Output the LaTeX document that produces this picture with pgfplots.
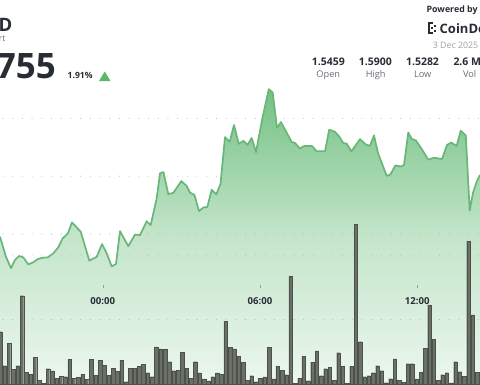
\documentclass[border=0pt]{standalone}
\usepackage{fontspec}
\setmainfont{Open Sans}
\usepackage{pgfplots}
\pgfplotsset{compat=1.18}
\usepackage{pgfplotstable}

\definecolor{linegreen}{RGB}{104,182,120}
\definecolor{topgreen}{RGB}{116,193,132}
\definecolor{midgreen}{RGB}{196,229,202}
\definecolor{botgreen}{RGB}{236,247,238}
\definecolor{volbar}{RGB}{106,112,104}
\definecolor{voledge}{RGB}{76,81,74}
\definecolor{gridc}{RGB}{180,186,182}
\definecolor{txtdark}{RGB}{40,44,52}
\definecolor{txtgray}{RGB}{105,110,118}
\definecolor{txtlight}{RGB}{160,160,166}
\definecolor{upgreen}{RGB}{92,184,100}

\pgfplotstableread{
k p
-0.069 1.5391
1.315 1.5321
2.468 1.5282
3.391 1.5310
4.314 1.5324
5.306 1.5319
6.459 1.5295
7.474 1.5301
8.627 1.5313
9.781 1.5318
10.934 1.5319
12.226 1.5333
13.379 1.5354
14.394 1.5385
15.548 1.5401
16.540 1.5440
18.547 1.5408
20.531 1.5308
22.238 1.5321
23.460 1.5365
24.544 1.5333
25.698 1.5288
26.690 1.5296
27.613 1.5410
29.527 1.5358
31.073 1.5398
32.226 1.5396
33.772 1.5444
34.694 1.5431
36.079 1.5523
36.840 1.5610
37.647 1.5614
38.754 1.5538
39.908 1.5542
41.753 1.5583
42.999 1.5566
43.760 1.5543
44.798 1.5535
45.836 1.5479
46.874 1.5492
47.751 1.5493
48.766 1.5553
49.827 1.5537
50.796 1.5573
51.834 1.5735
52.918 1.5719
53.910 1.5777
54.994 1.5712
56.102 1.5722
57.024 1.5708
57.993 1.5732
58.985 1.5683
60.369 1.5794
61.938 1.5901
62.838 1.5889
63.830 1.5767
64.752 1.5787
67.220 1.5718
67.982 1.5715
69.066 1.5696
70.058 1.5704
71.903 1.5704
72.988 1.5686
74.902 1.5686
75.872 1.5761
77.209 1.5753
78.178 1.5737
79.123 1.5715
79.908 1.5712
80.993 1.5686
82.976 1.5728
84.360 1.5709
85.283 1.5705
86.206 1.5741
87.128 1.5680
89.135 1.5601
90.012 1.5606
91.119 1.5637
92.434 1.5633
93.126 1.5639
94.118 1.5751
94.902 1.5729
95.894 1.5723
97.209 1.5694
98.731 1.5657
100.046 1.5664
101.892 1.5659
103.045 1.5708
104.013 1.5716
105.283 1.5705
106.205 1.5757
107.382 1.5741
108.282 1.5481
109.045 1.5543
109.897 1.5581
110.658 1.5604
}\price

\pgfplotstableread{
k v
0 81.1
1 28.4
2 63.1
3 22.8
4 28.4
5 136.9
6 18.6
7 15.0
8 41.4
9 6.2
10 0.6
11 23.7
12 20.2
13 8.8
14 12.4
15 11.3
16 38.3
17 8.8
18 10.4
19 15.5
20 7.3
21 38.3
22 13.5
23 37.2
24 29.0
25 13.5
26 24.3
27 19.7
28 36.7
29 3.6
30 24.8
31 24.8
32 27.9
33 30.5
34 17.5
35 11.3
36 57.4
37 54.3
38 53.8
39 34.6
40 20.6
41 21.7
42 49.6
43 24.3
44 8.8
45 34.6
46 17.1
47 7.8
48 4.7
49 11.3
50 17.1
51 15.5
52 97.2
53 56.9
54 54.3
55 43.4
56 33.6
57 6.2
58 12.9
59 3.6
60 8.8
61 10.9
62 56.9
63 7.8
64 27.9
65 21.2
66 14.4
67 167.4
68 0.6
69 8.8
70 43.4
71 5.1
72 34.1
73 51.2
74 12.9
75 23.7
76 25.9
77 6.2
78 48.5
79 27.4
80 0.6
81 27.4
82 248.0
83 65.6
84 11.3
85 12.9
86 17.5
87 28.4
88 20.6
89 2.0
90 8.2
91 38.8
92 5.7
93 3.1
94 31.5
95 31.5
96 7.8
97 18.6
98 55.8
99 122.5
100 69.3
101 6.2
102 14.4
103 17.5
104 1.6
105 34.6
106 19.1
107 12.4
108 221.2
109 107.0
110 18.1
}\volume

\begin{document}
\begin{tikzpicture}[x=1pt,y=1pt]
\useasboundingbox (0,0) rectangle (480,384);
\clip (0,0) rectangle (480,384);
\fill[white] (0,0) rectangle (480,384);

% price area + line
\begin{axis}[at={(0,0)}, anchor=south west, scale only axis,
  width=480pt, height=384pt,
  xmin=-0.069, xmax=110.658, ymin=1.48813, ymax=1.62091,
  axis line style={draw=none},
  ytick={1.54,1.56,1.58}, yticklabels={}, ymajorgrids,
  grid style={gridc, line width=1.1pt, line cap=round, dash pattern=on 0pt off 9.7pt, dash phase=-3pt},
  xtick={23.64,59.91,96.19}, xticklabels={00:00,06:00,12:00},
  major tick length=0pt,
  xticklabel style={anchor=center, yshift=82.8pt, text=txtdark,
    font=\fontsize{9.6}{10}\selectfont\bfseries},
  axis on top]
\addplot[draw=none, top color=topgreen, bottom color=botgreen, middle color=midgreen]
  table[x=k,y=p]{\price} -- (rel axis cs:1,0) -- (rel axis cs:0,0) -- cycle;
\addplot[linegreen, line width=1.7pt, line join=round] table[x=k,y=p]{\price};
\end{axis}

% volume bars
\begin{axis}[at={(0,0)}, anchor=south west, scale only axis,
  width=480pt, height=384pt,
  xmin=-0.069, xmax=110.658, ymin=0, ymax=595.2,
  axis line style={draw=none},
  xtick=\empty, ytick={100,200}, yticklabels={}, ymajorgrids,
  grid style={gridc, line width=1.1pt, line cap=round, dash pattern=on 0pt off 9.7pt, dash phase=-3pt},
  major tick length=0pt]
\addplot[ybar, bar width=3.5pt, bar shift=0pt, fill=volbar, draw=voledge, line width=0.3pt]
  table[x=k,y=v]{\volume};
\end{axis}

% small time tick marks
\foreach \xx in {102.8,260,417.3}{
  \draw[txtgray!70, line width=0.6pt] (\xx,96.5) -- (\xx,99.5);
}

% header left
\node[anchor=base west, inner sep=0, text=txtdark, font=\fontsize{18.5}{20}\selectfont\bfseries] at (-1.5,352.3) {D};
\node[anchor=base east, inner sep=0, text=txtgray, font=\fontsize{8.5}{9}\selectfont] at (5.5,342.3) {rt};
\node[anchor=base east, inner sep=0, text=txtdark, font=\fontsize{35}{36}\selectfont\bfseries] at (56,305.7) {755};
\node[anchor=base west, inner sep=0, text=txtdark, font=\fontsize{8.6}{9}\selectfont\bfseries] at (67.5,305.7) {1.91\%};
\fill[upgreen] (99,303) -- (110.5,303) -- (104.75,312.5) -- cycle;

% header right
\node[anchor=base west, inner sep=0, text=txtdark, font=\fontsize{8.8}{9}\selectfont\bfseries] at (426.5,371) {Powered by};
\begin{scope}[txtdark]
\fill (427.5,349.5) rectangle (429.5,361.5);
\fill (427.5,359.5) rectangle (433,361.5);
\fill (427.5,349.5) rectangle (433,351.5);
\fill (430.5,354.5) rectangle (432.5,356.5);
\fill (434,357) rectangle (436,359);
\fill (434,352) rectangle (436,354);
\end{scope}
\node[anchor=base west, inner sep=0, text=txtdark, font=\fontsize{13}{14}\selectfont\bfseries] at (439.5,350) {CoinDesk};
\node[anchor=base west, inner sep=0, text=txtlight, font=\fontsize{8.8}{9}\selectfont] at (432.7,335) {3 Dec 2025};

\node[anchor=base, inner sep=0, text=txtdark, font=\fontsize{10.5}{11}\selectfont\bfseries] at (328.3,319) {1.5459};
\node[anchor=base, inner sep=0, text=txtdark, font=\fontsize{10.5}{11}\selectfont\bfseries] at (375.3,319) {1.5900};
\node[anchor=base, inner sep=0, text=txtdark, font=\fontsize{10.5}{11}\selectfont\bfseries] at (422.5,319) {1.5282};
\node[anchor=base west, inner sep=0, text=txtdark, font=\fontsize{10.5}{11}\selectfont\bfseries] at (453.3,319) {2.6 M};
\node[anchor=base, inner sep=0, text=txtgray, font=\fontsize{9.2}{10}\selectfont] at (328.3,306.3) {Open};
\node[anchor=base, inner sep=0, text=txtgray, font=\fontsize{9.2}{10}\selectfont] at (375.7,306.3) {High};
\node[anchor=base, inner sep=0, text=txtgray, font=\fontsize{9.2}{10}\selectfont] at (422.7,306.3) {Low};
\node[anchor=base, inner sep=0, text=txtgray, font=\fontsize{9.2}{10}\selectfont] at (469.7,306.3) {Vol};
\end{tikzpicture}
\end{document}
